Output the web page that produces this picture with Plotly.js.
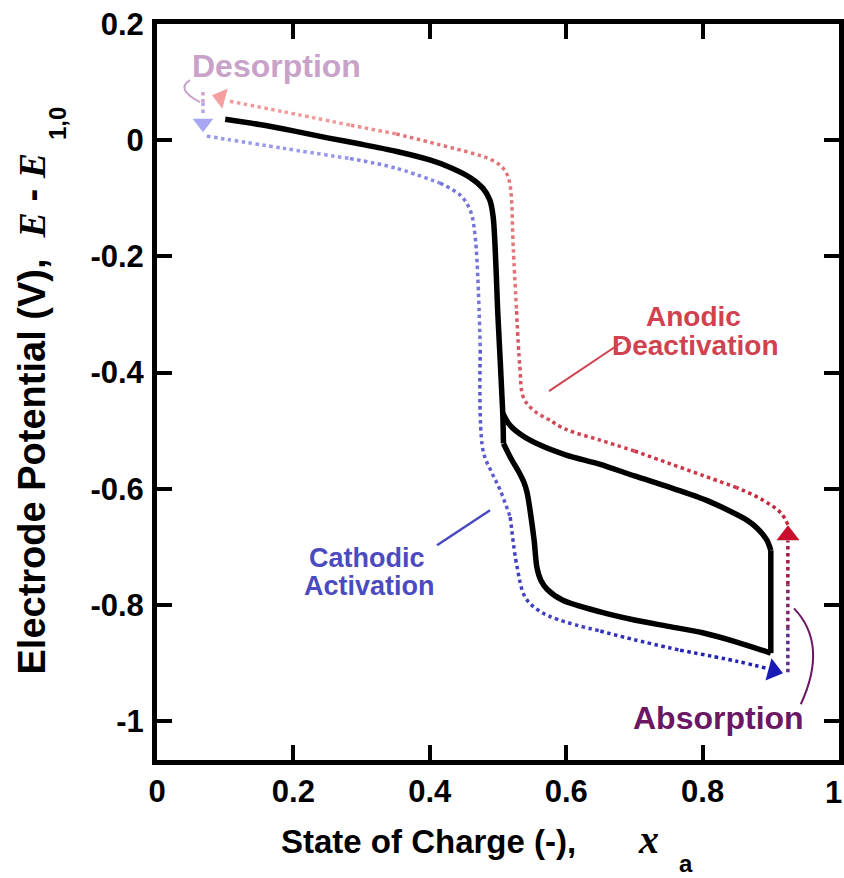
<!DOCTYPE html>
<html>
<head>
<meta charset="utf-8">
<script src="https://cdn.plot.ly/plotly-3.0.1.min.js"></script>
<style>html,body{margin:0;padding:0;background:#fff;}#chart{width:844px;height:878px;}</style>
</head>
<body>
<div id="chart"></div>
<script>
// ---------- data ----------
// black potential curve (SOC, E - E1,0)
const curveX = [0.100,0.150,0.200,0.250,0.300,0.350,0.400,0.430,0.460,0.478,0.488,0.493,0.500,0.507,0.508,
  0.5205,0.531,0.538,0.5425,0.547,0.553,0.557,0.563,0.572,0.595,0.650,0.700,0.750,0.800,0.850,0.900,
  0.900,0.894,0.880,0.865,0.806,0.750,0.700,0.650,0.600,0.560,0.535,0.517,0.507];
const curveY = [0.036,0.027,0.016,0.004,-0.007,-0.019,-0.034,-0.047,-0.065,-0.083,-0.103,-0.133,-0.305,-0.470,-0.522,
  -0.551,-0.572,-0.589,-0.606,-0.637,-0.689,-0.735,-0.758,-0.773,-0.792,-0.812,-0.826,-0.837,-0.848,-0.864,-0.883,
  -0.706,-0.688,-0.668,-0.654,-0.620,-0.597,-0.578,-0.558,-0.542,-0.524,-0.508,-0.490,-0.470];
const curveBreaks = [0,14,30,31,43];

// anodic deactivation path (red dotted)
const anodicX = [0.925,0.915,0.889,0.850,0.800,0.750,0.700,0.650,0.600,0.576,0.550,0.537,0.532,0.527,0.5225,0.5176,0.512,0.503,0.485,0.4638,0.415,0.350,0.283,0.185,0.107];
const anodicY = [-0.662,-0.642,-0.620,-0.598,-0.577,-0.556,-0.535,-0.5165,-0.498,-0.482,-0.463,-0.442,-0.390,-0.290,-0.189,-0.076,-0.056,-0.043,-0.031,-0.023,-0.008,0.011,0.026,0.049,0.067];
const anodicBreaks = [0,3,6,9,13,21,22,24];

// cathodic activation path (blue dotted)
const cathodicX = [0.073,0.185,0.283,0.350,0.415,0.445,0.459,0.466,0.474,0.478,0.490,0.503,0.518,0.528,0.540,0.560,0.590,0.650,0.700,0.767,0.850,0.897];
const cathodicY = [0.007,-0.014,-0.0316,-0.048,-0.074,-0.095,-0.120,-0.160,-0.361,-0.534,-0.570,-0.602,-0.649,-0.735,-0.787,-0.810,-0.826,-0.845,-0.860,-0.878,-0.897,-0.910];
const cathodicBreaks = [0,2,4,8,12,17,19,21];

// absorption step (vertical, right) and desorption step (vertical, left)
const absorbX = [0.925,0.925,0.925,0.925];
const absorbY = [-0.916,-0.840,-0.765,-0.689];
const desorbX = [0.0674,0.0674,0.0674];
const desorbY = [0.083,0.065,0.046];

// arrow heads
const arrowRedBR = {x:[0.9252], y:[-0.680]};
const arrowBlueBR = {x:[0.9037], y:[-0.9133]};
const arrowRedTL = {x:[0.0934], y:[0.0735]};
const arrowBlueTL = {x:[0.0674], y:[0.0293]};

const xTickVals = [0,0.2,0.4,0.6,0.8,1];
const xTickText = ['0','0.2','0.4','0.6','0.8','1'];
const yTickVals = [0.2,0,-0.2,-0.4,-0.6,-0.8,-1];
const yTickText = ['0.2','0','-0.2','-0.4','-0.6','-0.8','-1'];

// ---------- helpers ----------
function hex2rgb(h){h=h.replace('#','');return [parseInt(h.substr(0,2),16),parseInt(h.substr(2,2),16),parseInt(h.substr(4,2),16)];}
function mix(c1,c2,t){const a=hex2rgb(c1),b=hex2rgb(c2);return 'rgb('+a.map((v,i)=>Math.round(v+(b[i]-v)*t)).join(',')+')';}
function cumLen(xs,ys){
  const L=[0];
  for(let i=1;i<xs.length;i++) L.push(L[i-1]+Math.hypot((xs[i]-xs[i-1])*682,(ys[i]-ys[i-1])*581));
  return L;
}
function chunkTraces(xs,ys,breaks,c1,c2,width,shape){
  const L=cumLen(xs,ys), tot=L[L.length-1], out=[];
  for(let k=0;k<breaks.length-1;k++){
    const a=breaks[k], b=breaks[k+1];
    const t=(L[a]+L[b])/2/tot;
    out.push({x:xs.slice(a,b+1),y:ys.slice(a,b+1),mode:'lines',type:'scatter',
      line:{color:mix(c1,c2,t),width:width,dash:'dot',shape:shape||'spline',smoothing:1},hoverinfo:'skip',showlegend:false});
  }
  return out;
}
function allBreaks(n){const b=[];for(let i=0;i<n;i++)b.push(i);return b;}
function arrow(p,sym,ang,color,size){
  return {x:p.x,y:p.y,mode:'markers',type:'scatter',hoverinfo:'skip',showlegend:false,
    marker:{symbol:sym,angle:ang,size:size,color:color,line:{width:0}}};
}

let traces = [];
traces = traces.concat(chunkTraces(anodicX,anodicY,anodicBreaks,'#c42236','#f2a4a0',3.5));
traces = traces.concat(chunkTraces(cathodicX,cathodicY,cathodicBreaks,'#a4a4f0','#1c1cb0',3.5));
traces = traces.concat(chunkTraces(absorbX,absorbY,allBreaks(absorbX.length),'#46309a','#b5162e',3.5,'linear'));
traces = traces.concat(chunkTraces(desorbX,desorbY,allBreaks(desorbX.length),'#dca0c0','#a8a8ec',3.5,'linear'));
for(let k=0;k<curveBreaks.length-1;k++){
  const a=curveBreaks[k], b=curveBreaks[k+1];
  traces.push({x:curveX.slice(a,b+1),y:curveY.slice(a,b+1),mode:'lines',type:'scatter',
    line:{color:'#000',width:5.5,shape:'spline',smoothing:0.8},hoverinfo:'skip',showlegend:false});
}
traces.push(arrow(arrowRedBR,'triangle-up',0,'#c8102e',20));
traces.push(arrow(arrowBlueBR,'triangle-right',15,'#1a1ab4',20));
traces.push(arrow(arrowRedTL,'triangle-left',15,'#f4a0a0',18));
traces.push(arrow(arrowBlueTL,'triangle-down',0,'#a6a6f2',18));

const FONT='Liberation Sans, Arial, sans-serif';
const SERIF='Liberation Serif, Times New Roman, serif';
const serif = '<span style="font-family:'+SERIF+';font-style:italic">';
function ann(text,x,y,color,size,extra){
  return Object.assign({text:text,x:x,y:y,xref:'x',yref:'y',showarrow:false,xanchor:'center',yanchor:'middle',
    font:{family:FONT,size:size,color:color,weight:'bold'}},extra||{});
}
function pann(text,x,y,size,extra){
  return Object.assign({text:text,x:x,y:y,xref:'paper',yref:'paper',showarrow:false,xanchor:'center',yanchor:'middle',
    font:{family:FONT,size:size,color:'#000',weight:'bold'}},extra||{});
}

// last x tick label drawn as a right-aligned text so it stays inside the page
const xTickShown = xTickText.slice(0,-1).concat(['']);
const lastXTick = xTickText[xTickText.length-1];

const layout = {
  width:844,height:878,
  margin:{l:157,r:5,t:24,b:118,pad:0},
  paper_bgcolor:'#fff',plot_bgcolor:'#fff',
  showlegend:false,
  xaxis:{range:[0,1],showgrid:false,zeroline:false,showline:true,linecolor:'#000',linewidth:5,mirror:'ticks',
    ticks:'inside',ticklen:15,tickwidth:4,tickcolor:'#000',tickvals:xTickVals,ticktext:xTickShown,
    tickfont:{family:FONT,size:31,color:'#000',weight:'bold'},ticklabelstandoff:0},
  yaxis:{range:[-1.067,0.2],showgrid:false,zeroline:false,showline:true,linecolor:'#000',linewidth:5,mirror:'ticks',
    ticks:'inside',ticklen:15,tickwidth:4,tickcolor:'#000',tickvals:yTickVals,ticktext:yTickText,
    tickfont:{family:FONT,size:31,color:'#000',weight:'bold'},ticklabelstandoff:2,ticklabeloverflow:'allow'},
  shapes:[
    {type:'line',xref:'x',yref:'y',x0:0.5748,y0:-0.432,x1:0.6818,y1:-0.3478,line:{color:'#d0424f',width:2}},
    {type:'line',xref:'x',yref:'y',x0:0.4106,y0:-0.6973,x1:0.4883,y1:-0.637,line:{color:'#4a4ac0',width:2.5}},
    {type:'path',xref:'x',yref:'y',path:'M 0.934,-0.806 Q 0.9846,-0.8678 0.944,-0.971',line:{color:'#6b1764',width:2}},
    {type:'path',xref:'x',yref:'y',path:'M 0.0484,0.1033 Q 0.0264,0.0878 0.063,0.0654',line:{color:'#c8a2c8',width:2}}
  ],
  annotations:[
    ann('Anodic',0.786,-0.303,'#d0424f',28),
    ann('Deactivation',0.789,-0.353,'#d0424f',28),
    ann('Cathodic',0.308,-0.719,'#4b4bbf',27),
    ann('Activation',0.311,-0.767,'#4b4bbf',27),
    ann('Desorption',0.1745,0.128,'#c8a2c8',32),
    ann('Absorption',0.8226,-0.995,'#6b1764',32),
    pann(lastXTick,1.0073,-0.0435,31,{xanchor:'right'}),
    // x axis title pieces
    pann('State of Charge (-),',0.3988,-0.1107,33),
    pann(serif+'x</span>',0.7200,-0.1074,40),
    pann('a',0.7757,-0.1413,24),
    // y axis title pieces
    pann('Electrode Potential (V),&nbsp; '+serif+'E</span> - '+serif+'E</span>',-0.184,0.1128,38,{textangle:-90,yanchor:'bottom'}),
    pann('1,0',-0.1466,0.864,24,{textangle:-90})
  ]
};

Plotly.newPlot('chart',traces,layout,{displayModeBar:false,staticPlot:true});
</script>
</body>
</html>
